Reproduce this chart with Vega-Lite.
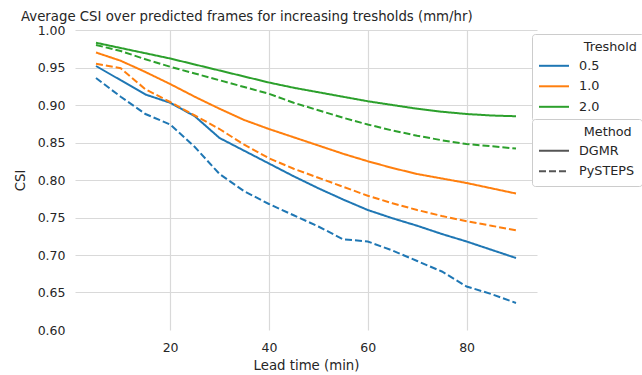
{
  "$schema": "https://vega.github.io/schema/vega-lite/v6.json",
  "width": 462,
  "height": 300,
  "autosize": {"type": "none"},
  "padding": {"left": 75, "top": 30, "right": 105, "bottom": 45},
  "background": "white",
  "title": {
    "text": "Average CSI over predicted frames for increasing tresholds (mm/hr)",
    "anchor": "start",
    "frame": "group",
    "dx": -54,
    "dy": 12,
    "offset": 2,
    "baseline": "alphabetic",
    "font": "DejaVu Sans",
    "fontSize": 13.3,
    "fontWeight": "normal",
    "color": "#262626"
  },
  "config": {
    "view": {"stroke": null},
    "font": "DejaVu Sans",
    "axis": {
      "labelFont": "DejaVu Sans",
      "titleFont": "DejaVu Sans",
      "labelColor": "#262626",
      "titleColor": "#262626",
      "labelFontSize": 12.5,
      "titleFontSize": 13.3,
      "titleFontWeight": "normal",
      "ticks": false,
      "domain": false,
      "gridColor": "#d9d9d9",
      "gridWidth": 1.2
    },
    "legend": {
      "labelFont": "DejaVu Sans",
      "titleFont": "DejaVu Sans",
      "labelFontSize": 12.8,
      "titleFontSize": 12.8,
      "titleFontWeight": "normal",
      "labelColor": "#262626",
      "titleColor": "#262626"
    }
  },
  "data": {
    "values": [
      {"Lead": 5, "CSI": 0.952, "Treshold": "0.5", "Method": "DGMR"},
      {"Lead": 10, "CSI": 0.933, "Treshold": "0.5", "Method": "DGMR"},
      {"Lead": 15, "CSI": 0.914, "Treshold": "0.5", "Method": "DGMR"},
      {"Lead": 20, "CSI": 0.903, "Treshold": "0.5", "Method": "DGMR"},
      {"Lead": 25, "CSI": 0.885, "Treshold": "0.5", "Method": "DGMR"},
      {"Lead": 30, "CSI": 0.856, "Treshold": "0.5", "Method": "DGMR"},
      {"Lead": 35, "CSI": 0.839, "Treshold": "0.5", "Method": "DGMR"},
      {"Lead": 40, "CSI": 0.822, "Treshold": "0.5", "Method": "DGMR"},
      {"Lead": 45, "CSI": 0.805, "Treshold": "0.5", "Method": "DGMR"},
      {"Lead": 50, "CSI": 0.789, "Treshold": "0.5", "Method": "DGMR"},
      {"Lead": 55, "CSI": 0.774, "Treshold": "0.5", "Method": "DGMR"},
      {"Lead": 60, "CSI": 0.760, "Treshold": "0.5", "Method": "DGMR"},
      {"Lead": 65, "CSI": 0.749, "Treshold": "0.5", "Method": "DGMR"},
      {"Lead": 70, "CSI": 0.739, "Treshold": "0.5", "Method": "DGMR"},
      {"Lead": 75, "CSI": 0.728, "Treshold": "0.5", "Method": "DGMR"},
      {"Lead": 80, "CSI": 0.718, "Treshold": "0.5", "Method": "DGMR"},
      {"Lead": 85, "CSI": 0.707, "Treshold": "0.5", "Method": "DGMR"},
      {"Lead": 90, "CSI": 0.696, "Treshold": "0.5", "Method": "DGMR"},
      {"Lead": 5, "CSI": 0.970, "Treshold": "1.0", "Method": "DGMR"},
      {"Lead": 10, "CSI": 0.959, "Treshold": "1.0", "Method": "DGMR"},
      {"Lead": 15, "CSI": 0.944, "Treshold": "1.0", "Method": "DGMR"},
      {"Lead": 20, "CSI": 0.928, "Treshold": "1.0", "Method": "DGMR"},
      {"Lead": 25, "CSI": 0.911, "Treshold": "1.0", "Method": "DGMR"},
      {"Lead": 30, "CSI": 0.895, "Treshold": "1.0", "Method": "DGMR"},
      {"Lead": 35, "CSI": 0.880, "Treshold": "1.0", "Method": "DGMR"},
      {"Lead": 40, "CSI": 0.868, "Treshold": "1.0", "Method": "DGMR"},
      {"Lead": 45, "CSI": 0.857, "Treshold": "1.0", "Method": "DGMR"},
      {"Lead": 50, "CSI": 0.846, "Treshold": "1.0", "Method": "DGMR"},
      {"Lead": 55, "CSI": 0.835, "Treshold": "1.0", "Method": "DGMR"},
      {"Lead": 60, "CSI": 0.825, "Treshold": "1.0", "Method": "DGMR"},
      {"Lead": 65, "CSI": 0.816, "Treshold": "1.0", "Method": "DGMR"},
      {"Lead": 70, "CSI": 0.808, "Treshold": "1.0", "Method": "DGMR"},
      {"Lead": 75, "CSI": 0.802, "Treshold": "1.0", "Method": "DGMR"},
      {"Lead": 80, "CSI": 0.796, "Treshold": "1.0", "Method": "DGMR"},
      {"Lead": 85, "CSI": 0.789, "Treshold": "1.0", "Method": "DGMR"},
      {"Lead": 90, "CSI": 0.782, "Treshold": "1.0", "Method": "DGMR"},
      {"Lead": 5, "CSI": 0.983, "Treshold": "2.0", "Method": "DGMR"},
      {"Lead": 10, "CSI": 0.976, "Treshold": "2.0", "Method": "DGMR"},
      {"Lead": 15, "CSI": 0.969, "Treshold": "2.0", "Method": "DGMR"},
      {"Lead": 20, "CSI": 0.962, "Treshold": "2.0", "Method": "DGMR"},
      {"Lead": 25, "CSI": 0.954, "Treshold": "2.0", "Method": "DGMR"},
      {"Lead": 30, "CSI": 0.946, "Treshold": "2.0", "Method": "DGMR"},
      {"Lead": 35, "CSI": 0.938, "Treshold": "2.0", "Method": "DGMR"},
      {"Lead": 40, "CSI": 0.930, "Treshold": "2.0", "Method": "DGMR"},
      {"Lead": 45, "CSI": 0.923, "Treshold": "2.0", "Method": "DGMR"},
      {"Lead": 50, "CSI": 0.917, "Treshold": "2.0", "Method": "DGMR"},
      {"Lead": 55, "CSI": 0.911, "Treshold": "2.0", "Method": "DGMR"},
      {"Lead": 60, "CSI": 0.905, "Treshold": "2.0", "Method": "DGMR"},
      {"Lead": 65, "CSI": 0.900, "Treshold": "2.0", "Method": "DGMR"},
      {"Lead": 70, "CSI": 0.895, "Treshold": "2.0", "Method": "DGMR"},
      {"Lead": 75, "CSI": 0.891, "Treshold": "2.0", "Method": "DGMR"},
      {"Lead": 80, "CSI": 0.888, "Treshold": "2.0", "Method": "DGMR"},
      {"Lead": 85, "CSI": 0.886, "Treshold": "2.0", "Method": "DGMR"},
      {"Lead": 90, "CSI": 0.885, "Treshold": "2.0", "Method": "DGMR"},
      {"Lead": 5, "CSI": 0.936, "Treshold": "0.5", "Method": "PySTEPS"},
      {"Lead": 10, "CSI": 0.911, "Treshold": "0.5", "Method": "PySTEPS"},
      {"Lead": 15, "CSI": 0.888, "Treshold": "0.5", "Method": "PySTEPS"},
      {"Lead": 20, "CSI": 0.874, "Treshold": "0.5", "Method": "PySTEPS"},
      {"Lead": 25, "CSI": 0.844, "Treshold": "0.5", "Method": "PySTEPS"},
      {"Lead": 30, "CSI": 0.808, "Treshold": "0.5", "Method": "PySTEPS"},
      {"Lead": 35, "CSI": 0.785, "Treshold": "0.5", "Method": "PySTEPS"},
      {"Lead": 40, "CSI": 0.768, "Treshold": "0.5", "Method": "PySTEPS"},
      {"Lead": 45, "CSI": 0.753, "Treshold": "0.5", "Method": "PySTEPS"},
      {"Lead": 50, "CSI": 0.738, "Treshold": "0.5", "Method": "PySTEPS"},
      {"Lead": 55, "CSI": 0.721, "Treshold": "0.5", "Method": "PySTEPS"},
      {"Lead": 60, "CSI": 0.718, "Treshold": "0.5", "Method": "PySTEPS"},
      {"Lead": 65, "CSI": 0.706, "Treshold": "0.5", "Method": "PySTEPS"},
      {"Lead": 70, "CSI": 0.692, "Treshold": "0.5", "Method": "PySTEPS"},
      {"Lead": 75, "CSI": 0.678, "Treshold": "0.5", "Method": "PySTEPS"},
      {"Lead": 80, "CSI": 0.658, "Treshold": "0.5", "Method": "PySTEPS"},
      {"Lead": 85, "CSI": 0.648, "Treshold": "0.5", "Method": "PySTEPS"},
      {"Lead": 90, "CSI": 0.636, "Treshold": "0.5", "Method": "PySTEPS"},
      {"Lead": 5, "CSI": 0.955, "Treshold": "1.0", "Method": "PySTEPS"},
      {"Lead": 10, "CSI": 0.949, "Treshold": "1.0", "Method": "PySTEPS"},
      {"Lead": 15, "CSI": 0.921, "Treshold": "1.0", "Method": "PySTEPS"},
      {"Lead": 20, "CSI": 0.904, "Treshold": "1.0", "Method": "PySTEPS"},
      {"Lead": 25, "CSI": 0.886, "Treshold": "1.0", "Method": "PySTEPS"},
      {"Lead": 30, "CSI": 0.868, "Treshold": "1.0", "Method": "PySTEPS"},
      {"Lead": 35, "CSI": 0.847, "Treshold": "1.0", "Method": "PySTEPS"},
      {"Lead": 40, "CSI": 0.829, "Treshold": "1.0", "Method": "PySTEPS"},
      {"Lead": 45, "CSI": 0.815, "Treshold": "1.0", "Method": "PySTEPS"},
      {"Lead": 50, "CSI": 0.803, "Treshold": "1.0", "Method": "PySTEPS"},
      {"Lead": 55, "CSI": 0.791, "Treshold": "1.0", "Method": "PySTEPS"},
      {"Lead": 60, "CSI": 0.779, "Treshold": "1.0", "Method": "PySTEPS"},
      {"Lead": 65, "CSI": 0.769, "Treshold": "1.0", "Method": "PySTEPS"},
      {"Lead": 70, "CSI": 0.760, "Treshold": "1.0", "Method": "PySTEPS"},
      {"Lead": 75, "CSI": 0.752, "Treshold": "1.0", "Method": "PySTEPS"},
      {"Lead": 80, "CSI": 0.745, "Treshold": "1.0", "Method": "PySTEPS"},
      {"Lead": 85, "CSI": 0.739, "Treshold": "1.0", "Method": "PySTEPS"},
      {"Lead": 90, "CSI": 0.733, "Treshold": "1.0", "Method": "PySTEPS"},
      {"Lead": 5, "CSI": 0.980, "Treshold": "2.0", "Method": "PySTEPS"},
      {"Lead": 10, "CSI": 0.972, "Treshold": "2.0", "Method": "PySTEPS"},
      {"Lead": 15, "CSI": 0.961, "Treshold": "2.0", "Method": "PySTEPS"},
      {"Lead": 20, "CSI": 0.951, "Treshold": "2.0", "Method": "PySTEPS"},
      {"Lead": 25, "CSI": 0.942, "Treshold": "2.0", "Method": "PySTEPS"},
      {"Lead": 30, "CSI": 0.933, "Treshold": "2.0", "Method": "PySTEPS"},
      {"Lead": 35, "CSI": 0.924, "Treshold": "2.0", "Method": "PySTEPS"},
      {"Lead": 40, "CSI": 0.915, "Treshold": "2.0", "Method": "PySTEPS"},
      {"Lead": 45, "CSI": 0.903, "Treshold": "2.0", "Method": "PySTEPS"},
      {"Lead": 50, "CSI": 0.893, "Treshold": "2.0", "Method": "PySTEPS"},
      {"Lead": 55, "CSI": 0.883, "Treshold": "2.0", "Method": "PySTEPS"},
      {"Lead": 60, "CSI": 0.874, "Treshold": "2.0", "Method": "PySTEPS"},
      {"Lead": 65, "CSI": 0.866, "Treshold": "2.0", "Method": "PySTEPS"},
      {"Lead": 70, "CSI": 0.859, "Treshold": "2.0", "Method": "PySTEPS"},
      {"Lead": 75, "CSI": 0.853, "Treshold": "2.0", "Method": "PySTEPS"},
      {"Lead": 80, "CSI": 0.848, "Treshold": "2.0", "Method": "PySTEPS"},
      {"Lead": 85, "CSI": 0.845, "Treshold": "2.0", "Method": "PySTEPS"},
      {"Lead": 90, "CSI": 0.842, "Treshold": "2.0", "Method": "PySTEPS"}
    ]
  },
  "mark": {"type": "line", "strokeWidth": 2, "clip": true},
  "encoding": {
    "x": {
      "field": "Lead",
      "type": "quantitative",
      "scale": {"domain": [0.75, 94.25], "nice": false, "zero": false},
      "axis": {
        "title": "Lead time (min)",
        "values": [20, 40, 60, 80],
        "labelPadding": 11,
        "titlePadding": 5
      }
    },
    "y": {
      "field": "CSI",
      "type": "quantitative",
      "scale": {"domain": [0.6, 1.0], "nice": false, "zero": false},
      "axis": {
        "title": "CSI",
        "values": [0.6, 0.65, 0.7, 0.75, 0.8, 0.85, 0.9, 0.95, 1.0],
        "format": ".2f",
        "labelPadding": 10,
        "titlePadding": 10,
        "gridOpacity": {"condition": {"test": "datum.value < 0.62", "value": 0}, "value": 1}
      }
    },
    "color": {
      "field": "Treshold",
      "type": "nominal",
      "scale": {"domain": ["0.5", "1.0", "2.0"], "range": ["#1f77b4", "#ff7f0e", "#2ca02c"]},
      "legend": {
        "title": "\u200b\u00a0\u00a0\u00a0\u00a0\u00a0\u00a0\u00a0\u00a0\u00a0\u00a0\u00a0Treshold",
        "orient": "none",
        "legendX": 457,
        "legendY": 4,
        "padding": 7,
        "titlePadding": 1,
        "rowPadding": 2.5,
        "symbolType": "M-1.5,0H1.5",
        "symbolSize": 400,
        "symbolStrokeWidth": 2,
        "symbolOffset": 4,
        "labelOffset": 14,
        "fillColor": "white",
        "strokeColor": "#cccccc",
        "cornerRadius": 3
      }
    },
    "strokeDash": {
      "field": "Method",
      "type": "nominal",
      "scale": {"domain": ["DGMR", "PySTEPS"], "range": [[1, 0], [7, 3]]},
      "legend": {
        "title": "\u200b\u00a0\u00a0\u00a0\u00a0\u00a0\u00a0\u00a0\u00a0\u00a0\u00a0\u00a0Method",
        "orient": "none",
        "legendX": 457,
        "legendY": 89,
        "padding": 7,
        "titlePadding": 1,
        "rowPadding": 2.5,
        "symbolType": "M-1.5,0H1.5",
        "symbolSize": 400,
        "symbolStrokeWidth": 2,
        "symbolOffset": 4,
        "labelOffset": 14,
        "fillColor": "white",
        "strokeColor": "#cccccc",
        "cornerRadius": 3,
        "encode": {"symbols": {"update": {"stroke": {"value": "#555555"}}}}
      }
    }
  }
}
